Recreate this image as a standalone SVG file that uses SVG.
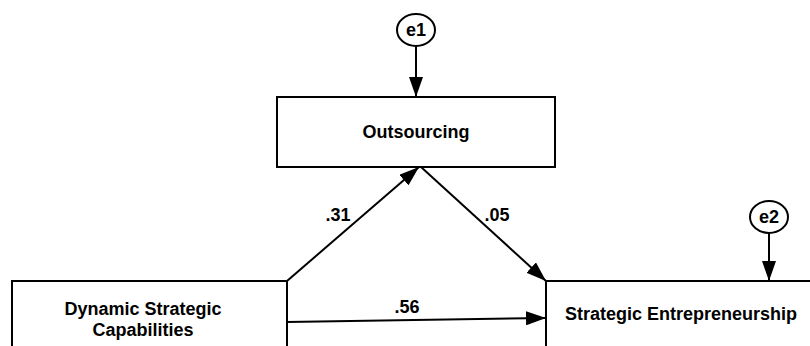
<svg xmlns="http://www.w3.org/2000/svg" width="810" height="346" viewBox="0 0 810 346">
<style>
.box{fill:#fff;stroke:#000;stroke-width:2}
.err{fill:#fff;stroke:#000;stroke-width:2}
.lbl{font-family:"Liberation Sans",Arial,sans-serif;font-weight:bold;font-size:18px;fill:#000}
.edge{stroke:#000;stroke-width:2;fill:none;marker-end:url(#ah)}
</style>
<defs>
<marker id="ah" viewBox="0 0 20 14" refX="20" refY="7" markerWidth="20" markerHeight="14" markerUnits="userSpaceOnUse" orient="auto">
<path d="M0,0 L20,7 L0,14 Z" fill="#000"/>
</marker>
</defs>
<g id="connectors">
<line class="edge" x1="416" y1="46" x2="416" y2="97"/>
<line class="edge" x1="769" y1="233" x2="769" y2="281"/>
<line class="edge" x1="287" y1="281" x2="419" y2="167"/>
<line class="edge" x1="421" y1="167" x2="546" y2="281"/>
<line class="edge" x1="287" y1="322" x2="546" y2="318"/>
<text class="lbl" x="338" y="221" text-anchor="middle">.31</text>
<text class="lbl" x="497" y="221" text-anchor="middle">.05</text>
<text class="lbl" x="407" y="313" text-anchor="middle">.56</text>
</g>
<g id="e1">
<ellipse class="err" cx="416" cy="30" rx="19" ry="16"/>
<text class="lbl" x="416" y="36" text-anchor="middle">e1</text>
</g>
<g id="e2">
<ellipse class="err" cx="769" cy="217" rx="19" ry="16"/>
<text class="lbl" x="769" y="223" text-anchor="middle">e2</text>
</g>
<g id="outsourcing">
<rect class="box" x="277" y="97" width="278" height="70"/>
<text class="lbl" x="416" y="138" text-anchor="middle">Outsourcing</text>
</g>
<g id="dsc">
<rect class="box" x="12" y="281" width="275" height="80"/>
<text class="lbl" x="143" y="315" text-anchor="middle">Dynamic Strategic</text>
<text class="lbl" x="143" y="336" text-anchor="middle">Capabilities</text>
</g>
<g id="se">
<rect class="box" x="546" y="281" width="280" height="80"/>
<text class="lbl" x="565" y="320">Strategic Entrepreneurship</text>
</g>
</svg>
